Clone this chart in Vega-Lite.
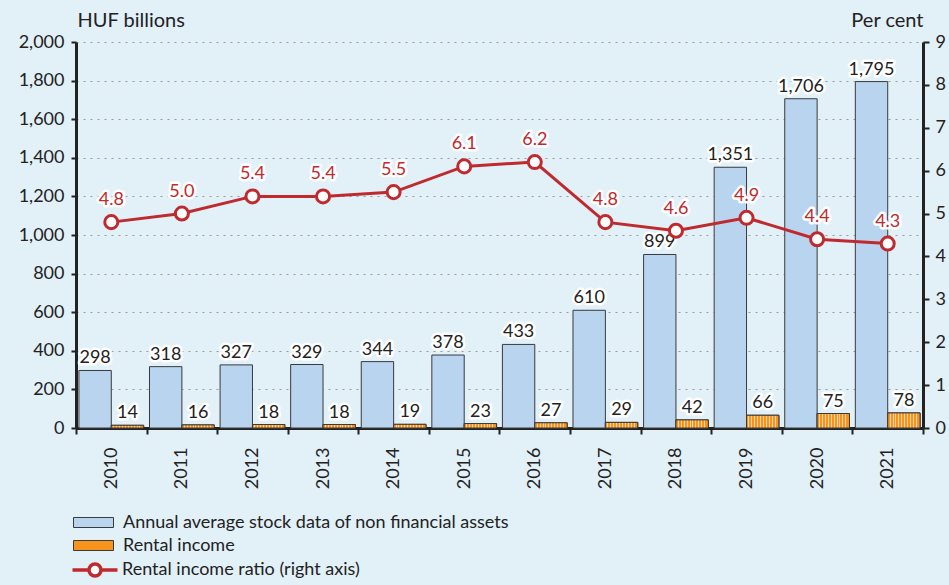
{
  "$schema": "https://vega.github.io/schema/vega-lite/v6.json",
  "autosize": "none",
  "width": 847,
  "height": 386,
  "padding": {"left": 76, "top": 42, "right": 26, "bottom": 157},
  "background": "#E2F0F8",
  "config": {
    "view": {"stroke": null},
    "font": "Lato",
    "text": {"font": "Lato"},
    "axis": {"labelFont": "Lato", "titleFont": "Lato", "labelColor": "#222", "titleColor": "#222"},
    "legend": {"labelFont": "Lato"}
  },
  "datasets": {
    "bars": [
      {"year": "2010", "series": "Annual average stock data of non financial assets", "value": 298},
      {"year": "2011", "series": "Annual average stock data of non financial assets", "value": 318},
      {"year": "2012", "series": "Annual average stock data of non financial assets", "value": 327},
      {"year": "2013", "series": "Annual average stock data of non financial assets", "value": 329},
      {"year": "2014", "series": "Annual average stock data of non financial assets", "value": 344},
      {"year": "2015", "series": "Annual average stock data of non financial assets", "value": 378},
      {"year": "2016", "series": "Annual average stock data of non financial assets", "value": 433},
      {"year": "2017", "series": "Annual average stock data of non financial assets", "value": 610},
      {"year": "2018", "series": "Annual average stock data of non financial assets", "value": 899},
      {"year": "2019", "series": "Annual average stock data of non financial assets", "value": 1351},
      {"year": "2020", "series": "Annual average stock data of non financial assets", "value": 1706},
      {"year": "2021", "series": "Annual average stock data of non financial assets", "value": 1795},
      {"year": "2010", "series": "Rental income", "value": 14},
      {"year": "2011", "series": "Rental income", "value": 16},
      {"year": "2012", "series": "Rental income", "value": 18},
      {"year": "2013", "series": "Rental income", "value": 18},
      {"year": "2014", "series": "Rental income", "value": 19},
      {"year": "2015", "series": "Rental income", "value": 23},
      {"year": "2016", "series": "Rental income", "value": 27},
      {"year": "2017", "series": "Rental income", "value": 29},
      {"year": "2018", "series": "Rental income", "value": 42},
      {"year": "2019", "series": "Rental income", "value": 66},
      {"year": "2020", "series": "Rental income", "value": 75},
      {"year": "2021", "series": "Rental income", "value": 78}
    ],
    "ratio": [
      {"year": "2010", "series": "Rental income ratio (right axis)", "ratio": 4.8},
      {"year": "2011", "series": "Rental income ratio (right axis)", "ratio": 5.0},
      {"year": "2012", "series": "Rental income ratio (right axis)", "ratio": 5.4},
      {"year": "2013", "series": "Rental income ratio (right axis)", "ratio": 5.4},
      {"year": "2014", "series": "Rental income ratio (right axis)", "ratio": 5.5},
      {"year": "2015", "series": "Rental income ratio (right axis)", "ratio": 6.1},
      {"year": "2016", "series": "Rental income ratio (right axis)", "ratio": 6.2},
      {"year": "2017", "series": "Rental income ratio (right axis)", "ratio": 4.8},
      {"year": "2018", "series": "Rental income ratio (right axis)", "ratio": 4.6},
      {"year": "2019", "series": "Rental income ratio (right axis)", "ratio": 4.9},
      {"year": "2020", "series": "Rental income ratio (right axis)", "ratio": 4.4},
      {"year": "2021", "series": "Rental income ratio (right axis)", "ratio": 4.3}
    ]
  },
  "layer": [
    {
      "data": {"name": "bars"},
      "encoding": {
        "x": {"field": "year", "type": "nominal", "sort": null,
          "scale": {"paddingInner": 0, "paddingOuter": 0},
          "axis": {"title": null, "labelAngle": -90, "labelAlign": "right", "labelBaseline": "middle",
            "labelFontSize": 18, "labelPadding": 13, "tickBand": "extent", "tickSize": 6, "tickWidth": 2,
            "tickColor": "#222", "domainColor": "#222", "domainWidth": 3}},
        "xOffset": {"field": "series", "type": "nominal", "sort": null,
          "scale": {"paddingInner": 0, "paddingOuter": 0.09}},
        "y": {"field": "value", "type": "quantitative",
          "scale": {"domain": [0, 2000]},
          "axis": {"title": "HUF billions", "titleAngle": 0, "titleAlign": "left", "titleBaseline": "middle",
            "titleX": 1, "titleY": -22, "titleFontSize": 20, "titleFontWeight": "normal",
            "values": [0, 200, 400, 600, 800, 1000, 1200, 1400, 1600, 1800, 2000],
            "format": ",.0f", "labelOverlap": false, "labelFontSize": 18, "labelPadding": 7, "tickSize": 5, "tickWidth": 2,
            "tickColor": "#222", "domainColor": "#222", "domainWidth": 3,
            "grid": true, "gridColor": "#9a9a9a", "gridDash": [2, 5], "gridWidth": 1.2}}
      },
      "layer": [
        {
          "mark": {"type": "bar", "stroke": "#3a3a3a", "strokeWidth": 1},
          "encoding": {
            "fill": {"field": "series", "type": "nominal", "sort": null,
              "scale": {"domain": ["Annual average stock data of non financial assets", "Rental income"],
                "range": ["#B9D4EF", "#F7941D"]},
              "legend": {"title": null, "orient": "none", "legendX": 7, "legendY": 470, "direction": "vertical",
                "padding": 0, "labelFontSize": 18, "labelColor": "#222", "labelLimit": 600,
                "symbolType": "M-2,-0.5H2V0.5H-2Z", "symbolSize": 400, "labelOffset": 19, "rowPadding": 3,
                "symbolStrokeWidth": 1, "symbolStrokeColor": "#3a3a3a", "symbolOpacity": 1}}
          }
        },
        {
          "transform": [{"filter": "datum.series === 'Rental income'"}],
          "mark": {"type": "bar", "stroke": "#3a3a3a", "strokeWidth": 1,
            "fill": {"gradient": "linear", "x1": 0, "y1": 0, "x2": 1, "y2": 0, "stops": [
              {"offset": 0, "color": "#F7941D"}, {"offset": 0.06, "color": "#F7941D"}, {"offset": 0.06, "color": "#FDD3A0"}, {"offset": 0.09, "color": "#FDD3A0"},
              {"offset": 0.09, "color": "#F7941D"}, {"offset": 0.15, "color": "#F7941D"}, {"offset": 0.15, "color": "#FDD3A0"}, {"offset": 0.18, "color": "#FDD3A0"},
              {"offset": 0.18, "color": "#F7941D"}, {"offset": 0.24, "color": "#F7941D"}, {"offset": 0.24, "color": "#FDD3A0"}, {"offset": 0.27, "color": "#FDD3A0"},
              {"offset": 0.27, "color": "#F7941D"}, {"offset": 0.33, "color": "#F7941D"}, {"offset": 0.33, "color": "#FDD3A0"}, {"offset": 0.36, "color": "#FDD3A0"},
              {"offset": 0.36, "color": "#F7941D"}, {"offset": 0.42, "color": "#F7941D"}, {"offset": 0.42, "color": "#FDD3A0"}, {"offset": 0.45, "color": "#FDD3A0"},
              {"offset": 0.45, "color": "#F7941D"}, {"offset": 0.51, "color": "#F7941D"}, {"offset": 0.51, "color": "#FDD3A0"}, {"offset": 0.54, "color": "#FDD3A0"},
              {"offset": 0.54, "color": "#F7941D"}, {"offset": 0.60, "color": "#F7941D"}, {"offset": 0.60, "color": "#FDD3A0"}, {"offset": 0.63, "color": "#FDD3A0"},
              {"offset": 0.63, "color": "#F7941D"}, {"offset": 0.69, "color": "#F7941D"}, {"offset": 0.69, "color": "#FDD3A0"}, {"offset": 0.72, "color": "#FDD3A0"},
              {"offset": 0.72, "color": "#F7941D"}, {"offset": 0.78, "color": "#F7941D"}, {"offset": 0.78, "color": "#FDD3A0"}, {"offset": 0.81, "color": "#FDD3A0"},
              {"offset": 0.81, "color": "#F7941D"}, {"offset": 0.87, "color": "#F7941D"}, {"offset": 0.87, "color": "#FDD3A0"}, {"offset": 0.90, "color": "#FDD3A0"},
              {"offset": 0.90, "color": "#F7941D"}, {"offset": 1, "color": "#F7941D"}]}}
        },
        {
          "mark": {"type": "text", "fontSize": 18, "baseline": "bottom", "dy": -3, "stroke": "#ffffff", "strokeWidth": 5, "strokeJoin": "round", "fill": "#ffffff"},
          "encoding": {"text": {"field": "value", "type": "quantitative", "format": ","}}
        },
        {
          "mark": {"type": "text", "fontSize": 18, "baseline": "bottom", "dy": -3, "fill": "#222222"},
          "encoding": {"text": {"field": "value", "type": "quantitative", "format": ","}}
        }
      ]
    },
    {
      "data": {"name": "ratio"},
      "encoding": {
        "x": {"field": "year", "type": "nominal", "sort": null},
        "y": {"field": "ratio", "type": "quantitative",
          "scale": {"domain": [0, 9]},
          "axis": {"orient": "right", "title": "Per cent", "titleAngle": 0, "titleAlign": "right", "titleBaseline": "middle",
            "titleX": 0, "titleY": -22, "titleFontSize": 20, "titleFontWeight": "normal",
            "values": [0, 1, 2, 3, 4, 5, 6, 7, 8, 9], "labelOverlap": false, "labelFontSize": 18, "labelPadding": 6,
            "tickSize": 6, "tickWidth": 2, "tickColor": "#222", "domainColor": "#222", "domainWidth": 3, "grid": false}}
      },
      "layer": [
        {"mark": {"type": "line", "color": "#BF2A2E", "strokeWidth": 3}},
        {"mark": {"type": "point", "shape": "circle", "filled": true, "fill": "#ffffff", "strokeWidth": 3, "size": 170, "opacity": 1},
          "encoding": {
            "stroke": {"field": "series", "type": "nominal",
              "scale": {"domain": ["Rental income ratio (right axis)"], "range": ["#BF2A2E"]},
              "legend": {"title": null, "orient": "none", "legendX": 7, "legendY": 516, "direction": "vertical",
                "padding": 0, "labelFontSize": 18, "labelColor": "#222", "labelLimit": 600,
                "symbolType": "M-2.25,0H-0.6M0.6,0H2.25M-0.6,0A0.6,0.6 0 1,0 0.6,0A0.6,0.6 0 1,0 -0.6,0Z",
                "symbolSize": 400, "labelOffset": 15, "symbolStrokeWidth": 3.5, "symbolFillColor": "#ffffff", "symbolOpacity": 1}}
          }},
        {"mark": {"type": "text", "fontSize": 18, "baseline": "middle", "dy": -22, "stroke": "#ffffff", "strokeWidth": 5, "strokeJoin": "round", "fill": "#ffffff"},
          "encoding": {"text": {"field": "ratio", "type": "quantitative", "format": ".1f"}}},
        {"mark": {"type": "text", "fontSize": 18, "baseline": "middle", "dy": -22, "fill": "#BF2A2E"},
          "encoding": {"text": {"field": "ratio", "type": "quantitative", "format": ".1f"}}}
      ]
    }
  ],
  "resolve": {"scale": {"y": "independent"}}
}
